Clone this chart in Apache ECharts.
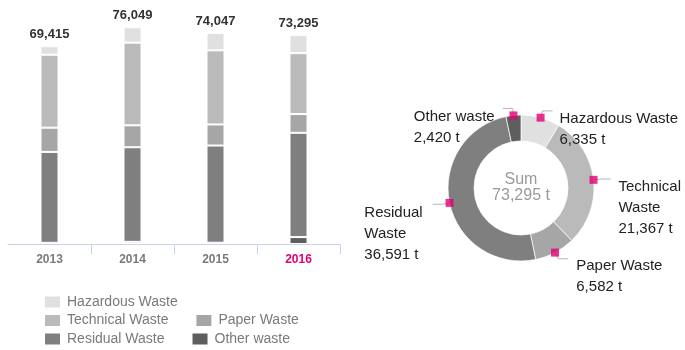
<!DOCTYPE html>
<html>
<head>
<meta charset="utf-8">
<script src="https://cdn.jsdelivr.net/npm/echarts@6/dist/echarts.min.js"></script>
<style>
  html, body { margin: 0; padding: 0; background: #fff; }
  #chart { width: 685px; height: 350px; }
</style>
</head>
<body>
<div id="chart"></div>
<script>
// Waste volumes by year (tonnes)
const years = ['2013', '2014', '2015', '2016'];
const wasteTypes = ['Hazardous Waste', 'Technical Waste', 'Paper Waste', 'Residual Waste', 'Other waste'];
const hazardous = [3000, 5400, 6100, 6335];
const technical = [25600, 29000, 26000, 21367];
const paper = [8500, 7700, 7400, 6582];
const residual = [31900, 33200, 34100, 36591];
const other = [415, 749, 447, 2420];
// Labels beside the donut slices
const donutLabels = ['Hazardous Waste', 'Technical\nWaste', 'Paper Waste', 'Residual\nWaste', 'Other waste'];

const colors = {
  'Hazardous Waste': '#e0e0e0',
  'Technical Waste': '#bababa',
  'Paper Waste': '#a6a6a6',
  'Residual Waste': '#7f7f7f',
  'Other waste': '#5e5e5e'
};
const magenta = '#e20074';
const font = '"Liberation Sans", Arial, sans-serif';
const fmt = v => Math.round(v).toLocaleString('en-US');

const totals = years.map((_, i) => hazardous[i] + technical[i] + paper[i] + residual[i] + other[i]);
const last = years.length - 1;
const latest = [hazardous[last], technical[last], paper[last], residual[last], other[last]];
const latestSum = latest.reduce((a, b) => a + b, 0);
// Angular midpoint of each slice, in value units
const mids = [];
latest.reduce((acc, v) => { mids.push(acc + v / 2); return acc + v; }, 0);

// Nudges for the donut labels
const labelShiftY = [18, 29, 18, 30, 19];
const labelShiftX = [-1, 0, 0, -2, 0];

function barSeries(name, data, extra) {
  return Object.assign({
    name: name,
    type: 'bar',
    stack: 'total',
    barWidth: 18,
    data: data,
    itemStyle: { color: colors[name], borderColor: '#fff', borderWidth: 1 },
    emphasis: { disabled: true }
  }, extra || {});
}

const chart = echarts.init(document.getElementById('chart'));
chart.setOption({
  animation: false,
  textStyle: { fontFamily: font },
  title: {
    text: 'Sum\n' + fmt(latestSum) + ' t',
    left: 521,
    top: 172,
    textAlign: 'center',
    padding: 0,
    textStyle: { color: '#9a9a9a', fontSize: 16, fontWeight: 'normal', lineHeight: 16, fontFamily: font }
  },
  grid: { left: 8, right: 345, top: 16, bottom: 106 },
  xAxis: {
    type: 'category',
    data: years,
    axisLine: { lineStyle: { color: '#c8d2ec' } },
    // no tick at the far left end of the axis
    axisTick: { show: true, length: 10, interval: (idx) => idx > 0, lineStyle: { color: '#c8d2ec' } },
    axisLabel: {
      margin: 10,
      fontSize: 12,
      fontWeight: 'bold',
      interval: 0,
      color: (v) => v === years[last] ? magenta : '#7a7a7a'
    }
  },
  yAxis: { type: 'value', min: 0, max: 80000, show: false },
  polar: { center: [521, 188], radius: 73 },
  angleAxis: { type: 'value', min: 0, max: latestSum, startAngle: 90, clockwise: true, show: false },
  radiusAxis: { type: 'value', min: 0, max: 1, show: false },
  legend: [
    { data: ['Hazardous Waste'], left: 43, top: 294.5 },
    { data: ['Technical Waste', 'Paper Waste'], left: 43, top: 313 },
    { data: ['Residual Waste', 'Other waste'], left: 43, top: 331.5 }
  ].map(l => Object.assign({
    orient: 'horizontal',
    icon: 'rect',
    itemWidth: 17,
    itemHeight: 13,
    itemGap: 26,
    padding: 0,
    selectedMode: false,
    textStyle: { color: '#7a7a7a', fontSize: 14, fontFamily: font, padding: [0, 0, 0, 1] }
  }, l)),
  series: [
    barSeries('Other waste', other),
    barSeries('Residual Waste', residual),
    barSeries('Paper Waste', paper),
    barSeries('Technical Waste', technical),
    barSeries('Hazardous Waste', hazardous, {
      label: {
        show: true,
        position: 'top',
        distance: 5,
        color: '#333',
        fontSize: 13,
        fontWeight: 'bold',
        formatter: (p) => fmt(totals[p.dataIndex])
      }
    }),
    {
      type: 'pie',
      center: [521, 188],
      radius: [47, 73],
      startAngle: 90,
      clockwise: true,
      avoidLabelOverlap: false,
      silent: true,
      itemStyle: { borderColor: 'rgba(255,255,255,0.7)', borderWidth: 1 },
      data: wasteTypes.map((n, i) => ({ name: n, value: latest[i], itemStyle: { color: colors[n] } })),
      label: {
        show: true,
        position: 'outside',
        formatter: (p) => '{t|' + donutLabels[p.dataIndex].split('\n').join('}\n{t|') + '}\n{t|' + fmt(p.value) + ' t}',
        rich: { t: { fontSize: 15, lineHeight: 21, color: '#222', align: 'left', fontFamily: font } }
      },
      labelLine: { show: true, length: 7, length2: 10, lineStyle: { color: '#b5b5b5', width: 1 } },
      labelLayout: (p) => ({ dx: labelShiftX[p.dataIndex] + (p.labelRect.x > 521 ? 3 : -3), dy: labelShiftY[p.dataIndex] })
    },
    {
      type: 'scatter',
      coordinateSystem: 'polar',
      symbol: 'rect',
      symbolSize: 8,
      silent: true,
      z: 10,
      itemStyle: { color: magenta },
      data: mids.map(m => [1, m])
    }
  ]
});
</script>
</body>
</html>
